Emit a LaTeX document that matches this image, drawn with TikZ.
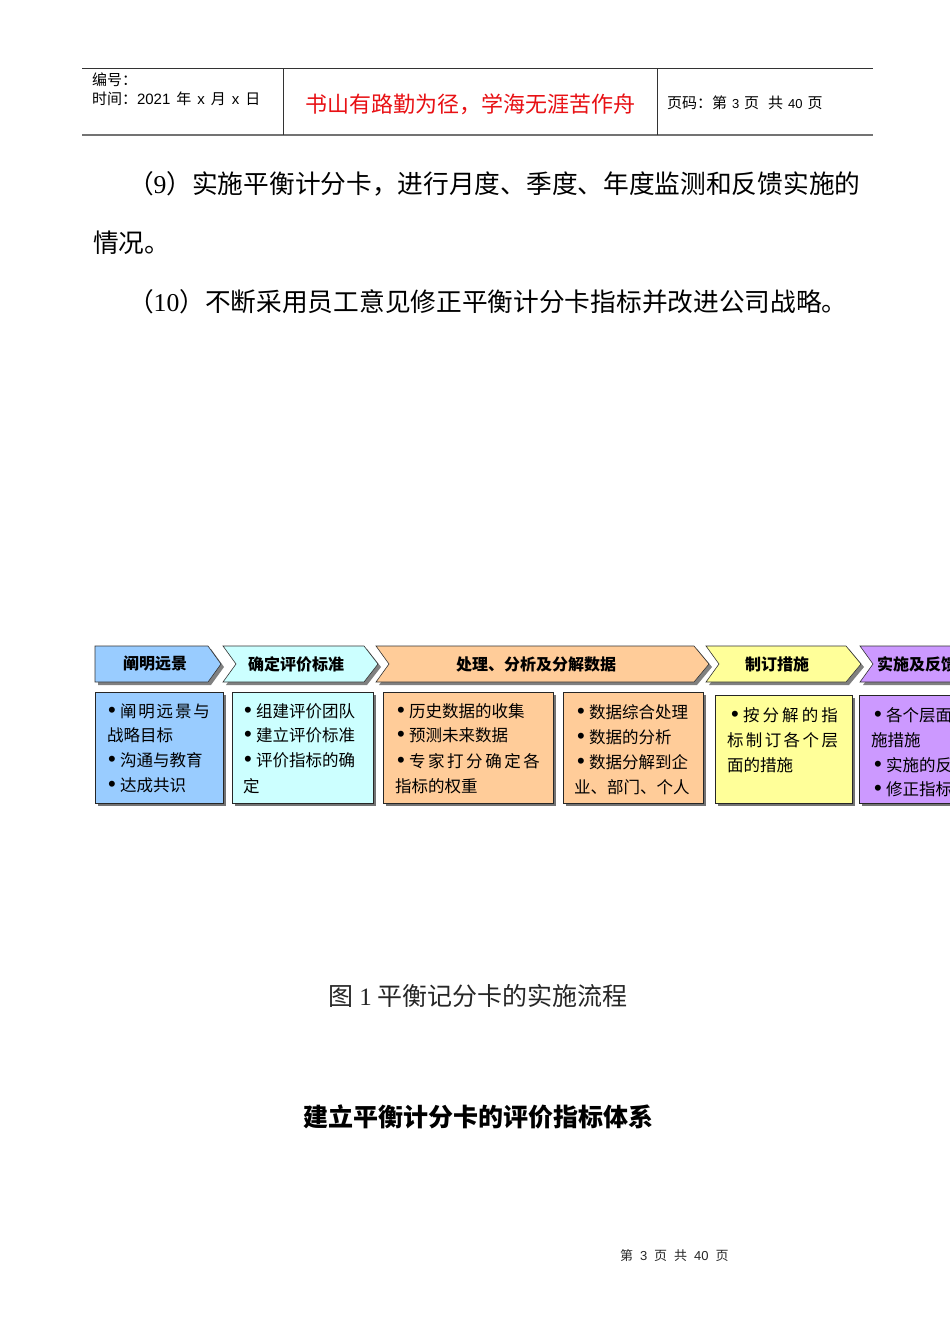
\documentclass[tikz,border=0pt]{standalone}
\usepackage{fontspec}
\setmainfont{Noto Sans CJK SC}
\newfontfamily\lat{Liberation Sans}
\newfontfamily\latserif{Liberation Serif}
\definecolor{cblue}{RGB}{153,204,255}
\definecolor{ccyan}{RGB}{204,255,255}
\definecolor{corange}{RGB}{255,204,153}
\definecolor{cyellow}{RGB}{255,255,153}
\definecolor{cpurple}{RGB}{204,153,255}
\definecolor{titlered}{RGB}{232,16,20}
\newcommand\fs[1]{\fontsize{#1}{#1}\selectfont}
\newcommand\bul{\makebox[12pt][l]{\raisebox{-0.5pt}{\lat\fs{22}•}}}
\newcommand\spr[2]{\makebox[#1][l]{#2}}
\newcommand\gap[1]{\hspace{#1pt}}
\newcommand\chevshape[5]{% L N R T fill
  \fill[black!50] (#1+3,649) -- (#3+3,649) -- (#4+3,667) -- (#3+3,685) -- (#1+3,685) -- (#2+3,667) -- cycle;
  \filldraw[fill=#5, draw=black!80, line width=0.6pt] (#1,646) -- (#3,646) -- (#4,664) -- (#3,682) -- (#1,682) -- (#2,664) -- cycle;}
\newcommand\pbox[5]{%
  \fill[black!55] (#1+3,#2+3) rectangle (#3+3,#4+3);
  \filldraw[fill=#5, draw=black!85, line width=0.8pt] (#1,#2) rectangle (#3,#4);}
\tikzset{
  txt/.style={anchor=west, inner sep=0pt, outer sep=0pt},
  hdr/.style={txt, font=\fs{15}},
  body/.style={txt, font=\fs{25.7}},
  boxt/.style={txt, font=\fs{16.5}},
  chevt/.style={inner sep=0pt, font=\fs{16}\bfseries},
  rule/.style={draw=black!80, line width=0.8pt},
}
\begin{document}
\begin{tikzpicture}[x=1pt,y=-1pt]
\useasboundingbox (0,0) rectangle (950,1344);
\fill[white] (0,0) rectangle (950,1344);
\begin{scope}
\clip (0,0) rectangle (950,1344);
% ---------- header ----------
\coordinate (h1) at (82,68);
\coordinate (h2) at (873,68);
\coordinate (h3) at (82,135);
\coordinate (h4) at (873,135);
\coordinate (v1a) at (283,68);
\coordinate (v1b) at (283,135);
\coordinate (v2a) at (657,68);
\coordinate (v2b) at (657,135);
\draw[rule] (h1) -- (h2);
\draw[draw=black!55, line width=1.6pt] (h3) -- (h4);
\draw[rule] (v1a) -- (v1b);
\draw[rule] (v2a) -- (v2b);
\node[hdr] (hno) at (92,80) {编号：};
\node[hdr] (htime) at (92,99) {时间：{\lat 2021}\gap{6}年\gap{6}{\lat x}\gap{6}月\gap{6}{\lat x}\gap{6}日};
\node[inner sep=0pt, font=\fs{22}, text=titlered] (htitle) at (470,104) {书山有路勤为径，学海无涯苦作舟};
\node[hdr] (hpage) at (667,103) {页码：第\gap{5}{\lat\fs{13}3}\gap{5}页\gap{9}共\gap{5}{\lat\fs{13}40}\gap{5}页};
% ---------- body ----------
\node[body] (p9) at (128,184) {（{\latserif 9}）实施平衡计分卡，进行月度、季度、年度监测和反馈实施的};
\node[body] (p9b) at (93,243) {情况。};
\node[body] (p10) at (128,302) {（{\latserif 10}）不断采用员工意见修正平衡计分卡指标并改进公司战略。};
% ---------- chevrons ----------
\chevshape{95}{95}{208}{221}{cblue}
\chevshape{223}{236}{364}{378}{ccyan}
\chevshape{376}{389}{694}{709}{corange}
\chevshape{706}{719}{846}{861}{cyellow}
\chevshape{860}{873}{1000}{1015}{cpurple}
\node[chevt] (c1) at (155,664) {阐明远景};
\node[chevt] (c2) at (296,664) {确定评价标准};
\node[chevt] (c3) at (536,664) {处理、分析及分解数据};
\node[chevt] (c4) at (777,664) {制订措施};
\node[chevt, anchor=west] (c5) at (877,664) {实施及反馈};
% ---------- boxes ----------
\pbox{95}{692}{223}{803}{cblue}
\pbox{232}{692}{373}{803}{ccyan}
\pbox{383}{692}{553}{803}{corange}
\pbox{563}{692}{703}{803}{corange}
\pbox{715}{695}{852}{803}{cyellow}
\pbox{859}{695}{1000}{803}{cpurple}
% box 1
\node[boxt] (b1a) at (108,711) {\spr{102pt}{\bul 阐\hfill 明\hfill 远\hfill 景\hfill 与}};
\node[boxt] (b1b) at (107,735) {战略目标};
\node[boxt] (b1c) at (108,760) {\bul 沟通与教育};
\node[boxt] (b1d) at (108,785) {\bul 达成共识};
% box 2
\node[boxt] (b2a) at (244,711) {\bul 组建评价团队};
\node[boxt] (b2b) at (244,735) {\bul 建立评价标准};
\node[boxt] (b2c) at (244,760) {\bul 评价指标的确};
\node[boxt] (b2d) at (243,786) {定};
% box 3
\node[boxt] (b3a) at (397,711) {\bul 历史数据的收集};
\node[boxt] (b3b) at (397,735) {\bul 预测未来数据};
\node[boxt] (b3c) at (397,761) {\spr{143pt}{\bul 专\hfill 家\hfill 打\hfill 分\hfill 确\hfill 定\hfill 各}};
\node[boxt] (b3d) at (395,786) {指标的权重};
% box 4
\node[boxt] (b4a) at (577,712) {\bul 数据综合处理};
\node[boxt] (b4b) at (577,737) {\bul 数据的分析};
\node[boxt] (b4c) at (577,762) {\bul 数据分解到企};
\node[boxt] (b4d) at (574,787) {业、部门、个人};
% box 5
\node[boxt] (b5a) at (731,715) {\spr{107pt}{\bul 按\hfill 分\hfill 解\hfill 的\hfill 指}};
\node[boxt] (b5b) at (727,740) {\spr{111pt}{标\hfill 制\hfill 订\hfill 各\hfill 个\hfill 层}};
\node[boxt] (b5c) at (727,765) {面的措施};
% box 6
\node[boxt] (b6a) at (874,715) {\bul 各个层面实};
\node[boxt] (b6b) at (871,740) {施措施};
\node[boxt] (b6c) at (874,765) {\bul 实施的反馈};
\node[boxt] (b6d) at (874,789) {\bul 修正指标};
% ---------- caption / heading / footer ----------
\node[inner sep=0pt, font=\fs{25}, text=black!85] (cap) at (478,996) {图 {\latserif 1} 平衡记分卡的实施流程};
\node[inner sep=0pt, font=\fs{25}\bfseries] (head) at (478,1117) {建立平衡计分卡的评价指标体系};
\node[txt, font=\fs{13}, text=black!85] (foot) at (620,1256) {第\gap{7}{\lat 3}\gap{7}页\gap{7}共\gap{7}{\lat 40}\gap{7}页};
\end{scope}
\end{tikzpicture}
\end{document}
